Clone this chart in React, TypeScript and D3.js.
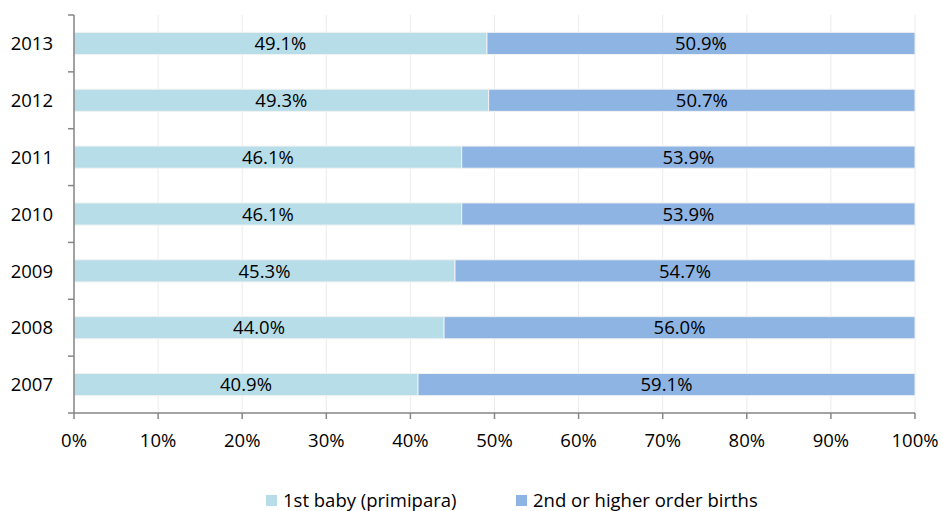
import React from "react";
import * as d3 from "d3";

const years = ["2013", "2012", "2011", "2010", "2009", "2008", "2007"];
const firstBaby = [49.1, 49.3, 46.1, 46.1, 45.3, 44.0, 40.9];
const higherOrder = [50.9, 50.7, 53.9, 53.9, 54.7, 56.0, 59.1];
const xTicks = [0, 10, 20, 30, 40, 50, 60, 70, 80, 90, 100];
const seriesNames = ["1st baby (primipara)", "2nd or higher order births"];
const colors = ["#b7dde8", "#8eb4e3"];

export default function App() {
  const W = 942, H = 511;
  const left = 74, right = 915, top = 15, bottom = 413;
  const x = d3.scaleLinear().domain([0, 100]).range([left, right]);
  const y = d3.scaleBand().domain(years).range([top, bottom]).paddingInner(0.61).paddingOuter(0.305);
  const band = d3.scaleBand().domain(years).range([top, bottom]);
  const font = "'Open Sans', sans-serif";
  const fs = 18.5;
  const axisColor = "#868686";
  return (
    <svg width={W} height={H} style={{ position: "absolute", left: 0, top: 0, background: "#fff" }} fontFamily={font}>
      {xTicks.map((t) => (
        <line key={"g" + t} x1={x(t)} x2={x(t)} y1={top} y2={bottom} stroke="#ececec" strokeWidth={1} />
      ))}
      {years.map((yr, i) => {
        const y0 = y(yr)!;
        const h = y.bandwidth();
        const a = firstBaby[i];
        const b = higherOrder[i];
        return (
          <g key={yr}>
            <rect x={x(0)} y={y0} width={x(a) - x(0)} height={h} fill={colors[0]} stroke="#f2f2f2" strokeWidth={1} />
            <rect x={x(a)} y={y0} width={x(a + b) - x(a)} height={h} fill={colors[1]} stroke="#f2f2f2" strokeWidth={1} />
            <text x={(x(0) + x(a)) / 2} y={y0 + h / 2} dy="0.36em" textAnchor="middle" fontSize={fs} fill="#000">
              {a.toFixed(1)}%
            </text>
            <text x={(x(a) + x(a + b)) / 2} y={y0 + h / 2} dy="0.36em" textAnchor="middle" fontSize={fs} fill="#000">
              {b.toFixed(1)}%
            </text>
            <text x={53} y={y0 + h / 2} dy="0.36em" textAnchor="end" fontSize={fs} fill="#000">
              {yr}
            </text>
          </g>
        );
      })}
      <line x1={left} x2={left} y1={top} y2={bottom} stroke={axisColor} strokeWidth={1.5} />
      {[...years.map((yr) => band(yr)!), bottom].map((v, i) => (
        <line key={"yt" + i} x1={left - 6} x2={left} y1={v} y2={v} stroke={axisColor} strokeWidth={1.5} />
      ))}
      <line x1={left} x2={right} y1={bottom} y2={bottom} stroke={axisColor} strokeWidth={1.5} />
      {xTicks.map((t) => (
        <g key={"xt" + t}>
          <line x1={x(t)} x2={x(t)} y1={bottom} y2={bottom + 6} stroke={axisColor} strokeWidth={1.5} />
          <text x={x(t)} y={447} textAnchor="middle" fontSize={fs} fill="#000">
            {t}%
          </text>
        </g>
      ))}
      {seriesNames.map((s, i) => {
        const lx = i === 0 ? 266 : 516;
        return (
          <g key={s}>
            <rect x={lx} y={495} width={11} height={11} fill={colors[i]} />
            <text x={lx + 17} y={507} fontSize={fs} fill="#000">
              {s}
            </text>
          </g>
        );
      })}
    </svg>
  );
}
